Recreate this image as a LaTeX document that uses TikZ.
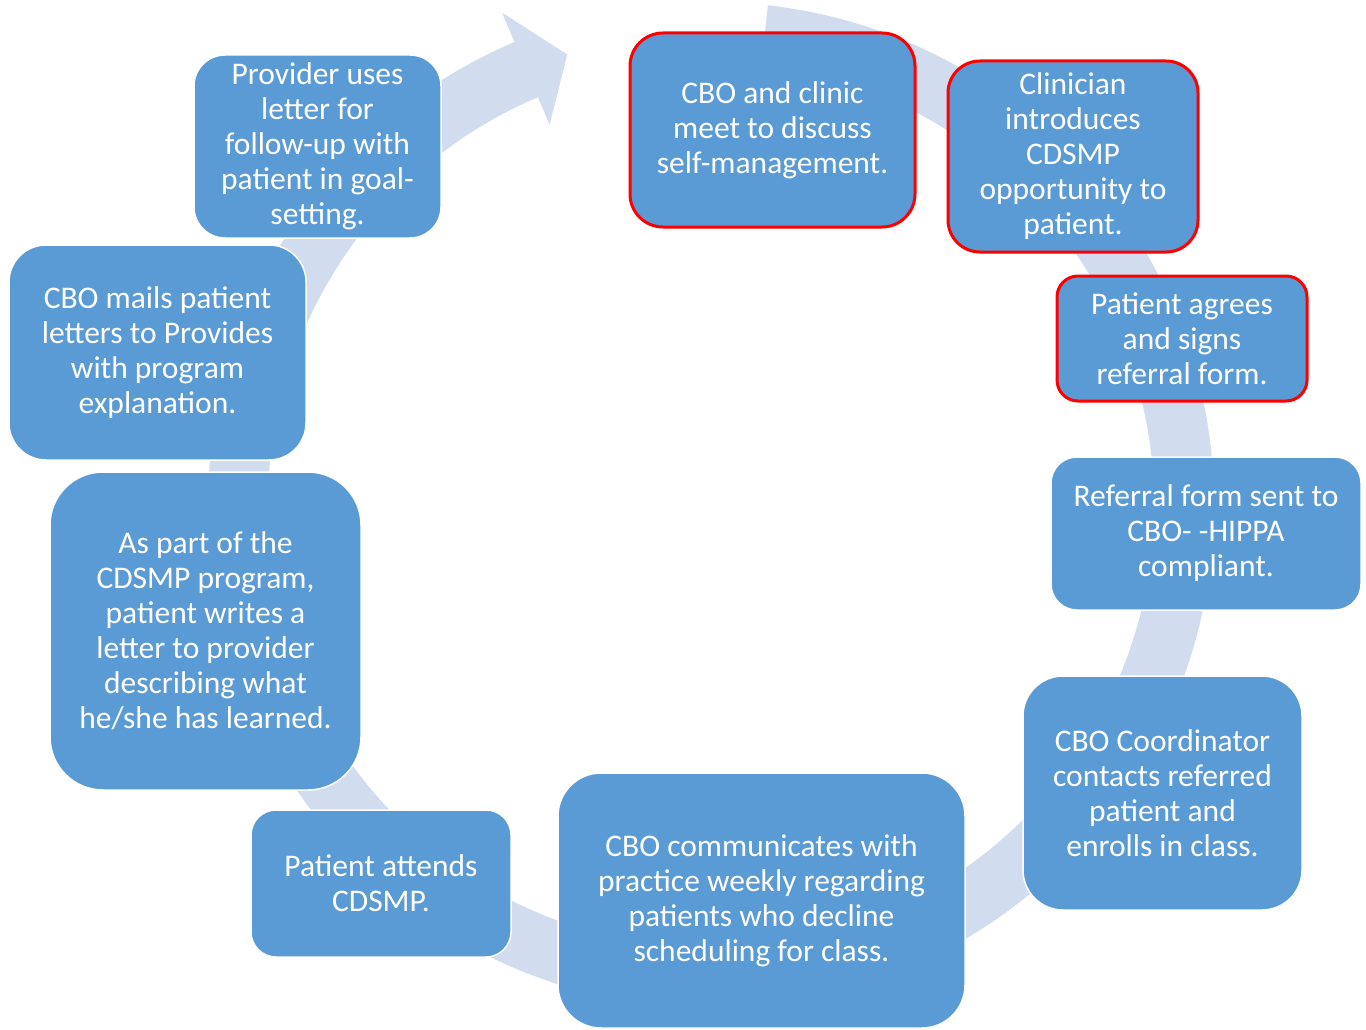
\documentclass[tikz,border=0pt]{standalone}
\usepackage{fontspec}
\setmainfont{Carlito}
\usetikzlibrary{positioning}
\definecolor{stageblue}{HTML}{5B9BD5}
\definecolor{ringblue}{HTML}{D1DDEE}
\definecolor{flagred}{HTML}{FF0000}

\begin{document}
\begin{tikzpicture}[
x=1pt, y=-1pt,
stage/.style={
  draw=white,
  line width=1.5pt,
  fill=stageblue,
  text=white,
  align=center,
  inner sep=0pt,
  font=\fontsize{31.5}{35}\selectfont
},
keystage/.style={
  stage,
  draw=flagred,
  line width=3pt
},
ring/.style={
  fill=ringblue,
  draw=none
}
]
\useasboundingbox (0,0) rectangle (1366,1030);

% cycle arrow behind the stages
\fill[ring,shift={(711,505)}] (-83.5:503)
  arc[start angle=-83.5,end angle=247,radius=503]
  -- (247:535) -- (252.3:473) -- (247:413) -- (247:443)
  arc[start angle=247,end angle=-83.5,radius=443] -- cycle;

\node[keystage,minimum width=285pt,minimum height=194pt,rounded corners=33pt] at (772.5,130)
  (meet) {CBO and clinic\\meet to discuss\\self-management.};
\node[keystage,minimum width=250pt,minimum height=191pt,rounded corners=32pt] at (1073,156.5)
  (introduce) {Clinician\\introduces\\CDSMP\\opportunity to\\patient.};
\node[keystage,minimum width=250pt,minimum height=125pt,rounded corners=21pt] at (1182,338.5)
  (agree) {Patient agrees\\and signs\\referral form.};
\node[stage,minimum width=310pt,minimum height=153pt,rounded corners=26pt] at (1206,533.5)
  (sendform) {Referral form sent to\\CBO- -HIPPA\\compliant.};
\node[stage,minimum width=279pt,minimum height=234pt,rounded corners=40pt] at (1162.5,793)
  (enroll) {CBO Coordinator\\contacts referred\\patient and\\enrolls in class.};
\node[stage,minimum width=407pt,minimum height=255pt,rounded corners=43pt] at (761.5,900.5)
  (report) {CBO communicates with\\practice weekly regarding\\patients who decline\\scheduling for class.};
\node[stage,minimum width=260pt,minimum height=147pt,rounded corners=25pt] at (381,883.5)
  (attend) {Patient attends\\CDSMP.};
\node[stage,minimum width=311pt,minimum height=318pt,rounded corners=53pt] at (205.5,631)
  (writeletter) {As part of the\\CDSMP program,\\patient writes a\\letter to provider\\describing what\\he/she has learned.};
\node[stage,minimum width=297pt,minimum height=215pt,rounded corners=37pt] at (157.5,352.5)
  (mailletter) {CBO mails patient\\letters to Provides\\with program\\explanation.};
\node[stage,minimum width=247pt,minimum height=183pt,rounded corners=31pt] at (317.5,146.5)
  (followup) {Provider uses\\letter for\\follow-up with\\patient in goal-\\setting.};
\end{tikzpicture}
\end{document}
